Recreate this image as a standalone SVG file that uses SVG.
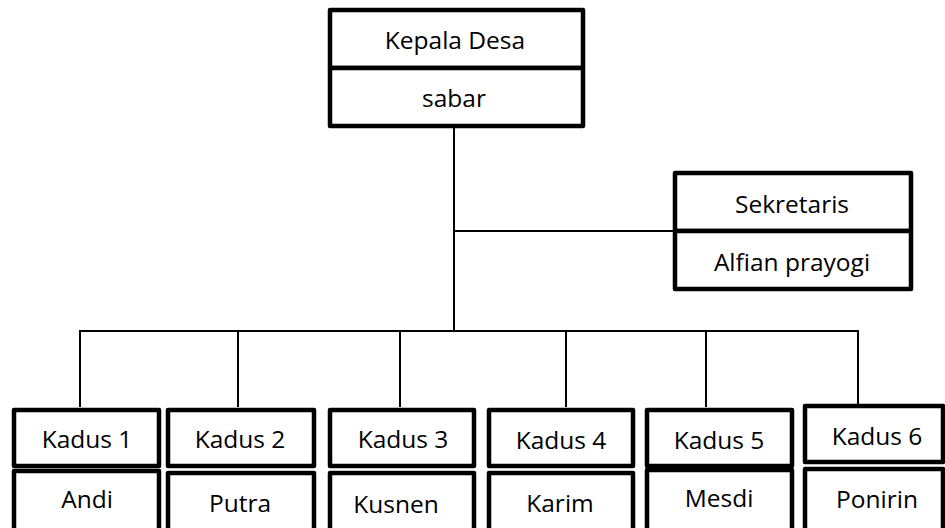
<svg xmlns="http://www.w3.org/2000/svg" width="945" height="528" viewBox="0 0 945 528">
<style>
.box{fill:#fff;stroke:#000;stroke-width:4.5;stroke-linejoin:round}
.ln{stroke:#000;stroke-width:2;fill:none}
text{font-family:"Open Sans","Liberation Sans",sans-serif;font-size:24.5px;fill:#000;text-anchor:middle}
</style>
<rect width="945" height="528" fill="#fff"/>
<g id="connectors">
<line class="ln" x1="454" y1="126" x2="454" y2="331"/>
<line class="ln" x1="454" y1="231" x2="675" y2="231"/>
<line class="ln" x1="80" y1="331" x2="859" y2="331"/>
<line class="ln" x1="80" y1="330" x2="80" y2="407"/>
<line class="ln" x1="238" y1="330" x2="238" y2="407"/>
<line class="ln" x1="400" y1="330" x2="400" y2="407"/>
<line class="ln" x1="566" y1="330" x2="566" y2="407"/>
<line class="ln" x1="706" y1="330" x2="706" y2="407"/>
<line class="ln" x1="858" y1="330" x2="858" y2="404"/>
</g>
<g id="kepala">
<rect class="box" x="330" y="10" width="253" height="58"/>
<rect class="box" x="330" y="68" width="253" height="58"/>
<text x="455" y="49">Kepala Desa</text>
<text x="454" y="107">sabar</text>
</g>
<g id="sekretaris">
<rect class="box" x="675" y="173" width="236" height="58"/>
<rect class="box" x="675" y="231" width="236" height="58"/>
<text x="792" y="213">Sekretaris</text>
<text x="792" y="271">Alfian prayogi</text>
</g>
<g id="kadus1">
<rect class="box" x="14" y="410" width="145" height="56"/>
<rect class="box" x="14" y="471" width="145" height="70"/>
<text x="87" y="448">Kadus 1</text>
<text x="87" y="508">Andi</text>
</g>
<g id="kadus2">
<rect class="box" x="168" y="410" width="146" height="56"/>
<rect class="box" x="168" y="473" width="146" height="70"/>
<text x="240" y="448">Kadus 2</text>
<text x="240" y="512">Putra</text>
</g>
<g id="kadus3">
<rect class="box" x="330" y="410" width="144" height="56"/>
<rect class="box" x="330" y="473" width="144" height="70"/>
<text x="403" y="448">Kadus 3</text>
<text x="396" y="513">Kusnen</text>
</g>
<g id="kadus4">
<rect class="box" x="489" y="410" width="144" height="56"/>
<rect class="box" x="489" y="473" width="144" height="70"/>
<text x="561" y="449">Kadus 4</text>
<text x="560" y="512">Karim</text>
</g>
<g id="kadus5">
<rect class="box" x="647" y="410" width="145" height="56"/>
<rect class="box" x="647" y="470" width="145" height="70"/>
<text x="719" y="449">Kadus 5</text>
<text x="719" y="507">Mesdi</text>
</g>
<g id="kadus6">
<rect class="box" x="805" y="406" width="138" height="56"/>
<rect class="box" x="805" y="469" width="138" height="70"/>
<text x="877" y="445">Kadus 6</text>
<text x="877" y="508">Ponirin</text>
</g>
</svg>
